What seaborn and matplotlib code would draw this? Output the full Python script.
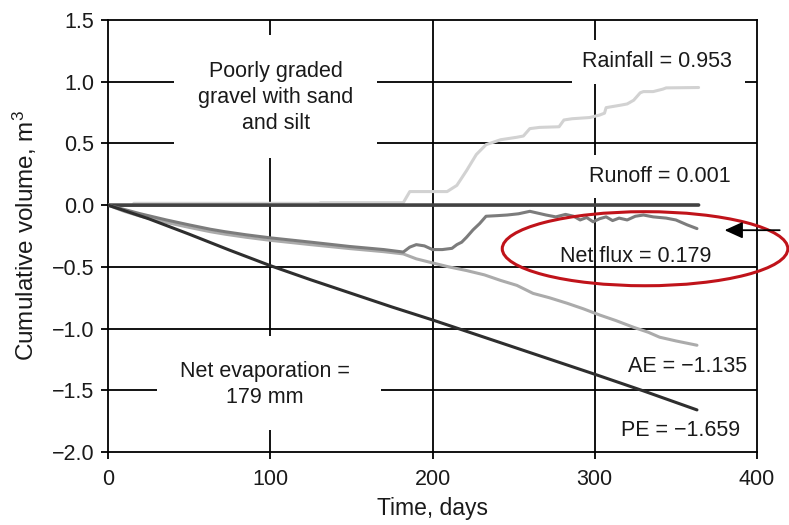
import numpy as np
import pandas as pd
import matplotlib
matplotlib.use("Agg")
import matplotlib.pyplot as plt
import seaborn as sns
from matplotlib.patches import Ellipse, Rectangle

# ---------------- data ----------------
pe_days = [0, 25, 50, 75, 100, 125, 150, 175, 200, 225, 250, 275, 300, 330, 363]
pe_vol = [0, -0.11, -0.235, -0.365, -0.49, -0.605, -0.715, -0.825, -0.93, -1.04,
          -1.15, -1.26, -1.37, -1.505, -1.659]

ae_days = [0, 10, 20, 36, 50, 63, 72, 85, 100, 125, 149, 170, 182, 190, 200, 210, 221,
           232, 242, 252, 262, 272, 283, 293, 303, 313, 324, 333, 340, 350, 363]
ae_vol = [0, -0.05, -0.09, -0.14, -0.18, -0.215, -0.235, -0.26, -0.285, -0.32, -0.352,
          -0.377, -0.395, -0.435, -0.468, -0.50, -0.53, -0.565, -0.61, -0.65, -0.715,
          -0.75, -0.795, -0.84, -0.89, -0.935, -0.99, -1.03, -1.07, -1.10, -1.135]

net_days = [0, 10, 20, 36, 50, 63, 72, 85, 100, 125, 149, 170, 182, 186, 190, 195, 200,
            206, 212, 215, 218, 221, 225, 229, 233, 240, 246, 253, 260, 265, 270, 276,
            282, 287, 291, 295, 299, 303, 307, 311, 315, 320, 325, 330, 336, 344, 350,
            357, 363]
net_vol = [0, -0.035, -0.07, -0.12, -0.16, -0.195, -0.215, -0.24, -0.265, -0.30, -0.335,
           -0.36, -0.38, -0.34, -0.32, -0.33, -0.36, -0.36, -0.35, -0.32, -0.30, -0.26,
           -0.20, -0.15, -0.09, -0.085, -0.08, -0.07, -0.05, -0.065, -0.08, -0.095,
           -0.075, -0.09, -0.12, -0.10, -0.135, -0.11, -0.095, -0.125, -0.105, -0.12,
           -0.09, -0.08, -0.095, -0.105, -0.12, -0.16, -0.19]

rain_days = [0, 15, 16, 130, 131, 182, 186, 209, 215, 221, 227, 233, 242, 252, 256, 260,
             266, 278, 281, 286, 297, 303, 306, 307, 316, 320, 324, 328, 330, 336, 342,
             344, 364]
rain_vol = [0, 0.0, 0.015, 0.015, 0.02, 0.02, 0.11, 0.11, 0.16, 0.28, 0.41, 0.49, 0.53,
            0.55, 0.56, 0.62, 0.63, 0.635, 0.69, 0.70, 0.71, 0.73, 0.745, 0.79, 0.81,
            0.82, 0.85, 0.91, 0.92, 0.92, 0.94, 0.95, 0.953]

runoff_days = [0, 364]
runoff_vol = [0.0, 0.001]

series_names = ["Rainfall", "Runoff", "AE", "Net flux", "PE"]
x_ticks = [0, 100, 200, 300, 400]
y_ticks = [-2.0, -1.5, -1.0, -0.5, 0.0, 0.5, 1.0, 1.5]

# ---------------- style ----------------
sns.set_style("ticks")
plt.rcParams["font.family"] = ["Liberation Sans", "DejaVu Sans"]
plt.rcParams["mathtext.fontset"] = "custom"
plt.rcParams["mathtext.rm"] = "Liberation Sans"
plt.rcParams["mathtext.default"] = "regular"
FS = 15.5

frames = []
for name, d, v in [("Rainfall", rain_days, rain_vol), ("Runoff", runoff_days, runoff_vol),
                   ("AE", ae_days, ae_vol), ("Net flux", net_days, net_vol),
                   ("PE", pe_days, pe_vol)]:
    frames.append(pd.DataFrame({"day": d, "vol": v, "series": name}))
df = pd.concat(frames, ignore_index=True)

palette = {"Rainfall": "#d2d2d2", "Runoff": "#424242", "AE": "#ababab",
           "Net flux": "#7c7c7c", "PE": "#2e2e2e"}
sizes = {"Rainfall": 2.2, "Runoff": 2.6, "AE": 2.2, "Net flux": 2.2, "PE": 2.2}

fig = plt.figure(figsize=(7.89, 5.25), dpi=100)
ax = fig.add_axes([108 / 789, 73 / 525, 649 / 789, 432 / 525])

sns.lineplot(data=df, x="day", y="vol", hue="series", size="series",
             hue_order=series_names, size_order=series_names,
             palette=palette, sizes=sizes, estimator=None, sort=False,
             legend=False, ax=ax)
for ln in ax.lines:
    ln.set_zorder(3)

# grid lines (black)
for xv in [100, 200, 300]:
    ax.axvline(xv, color="black", lw=1.3, zorder=1)
for yv in [1.0, 0.5, -0.5, -1.0, -1.5]:
    ax.axhline(yv, color="black", lw=1.3, zorder=1)

# white boxes behind labels that interrupt the grid
for (x0, x1, y0, y1) in [(40.7, 166, 0.38, 1.38), (286, 392.6, 0.98, 1.338),
                         (287, 392, 0.06, 0.405), (30, 168, -1.825, -1.062)]:
    ax.add_patch(Rectangle((x0, y0), x1 - x0, y1 - y0, facecolor="white",
                           edgecolor="none", zorder=2))

txt = dict(ha="center", va="center", fontsize=FS, color="#1a1a1a", zorder=4)
ax.text(103.4, 0.87, "Poorly graded\ngravel with sand\nand silt", linespacing=1.3, **txt)
ax.text(338.6, 1.16, "Rainfall = 0.953", **txt)
ax.text(340, 0.23, "Runoff = 0.001", **txt)
ax.text(325, -0.414, "Net flux = 0.179", **txt)
ax.text(357, -1.306, "AE = \u22121.135", **txt)
ax.text(352.8, -1.825, "PE = \u22121.659", **txt)
ax.text(96.8, -1.45, "Net evaporation =\n179 mm", linespacing=1.3, **txt)

# red ellipse and arrow
ax.add_patch(Ellipse((331, -0.353), 176, 0.60, fill=False, edgecolor="#c0131a",
                     lw=2.2, clip_on=False, zorder=5))
ax.annotate("", xy=(380, -0.203), xytext=(414, -0.203),
            arrowprops=dict(arrowstyle="-|>,head_length=0.55,head_width=0.25",
                            color="black", lw=1.3, mutation_scale=20,
                            shrinkA=0, shrinkB=0),
            annotation_clip=False, zorder=5)

ax.set_xlim(0, 400)
ax.set_ylim(-2.0, 1.5)
ax.set_xticks(x_ticks)
ax.set_yticks(y_ticks)
ax.set_yticklabels([f"{v:.1f}".replace("-", "\u2212") for v in y_ticks])
ax.tick_params(direction="out", length=5, width=1.3, labelsize=FS, colors="black",
               labelcolor="#1a1a1a")
ax.tick_params(axis="y", pad=5)
ax.tick_params(axis="x", pad=7)
for sp in ax.spines.values():
    sp.set_visible(True)
    sp.set_linewidth(1.3)
    sp.set_color("black")
ax.set_xlabel("Time, days", fontsize=16.5, color="#1a1a1a", labelpad=5)
ax.set_ylabel("Cumulative volume, m$^3$", fontsize=17.5, color="#1a1a1a", labelpad=9)

fig.savefig("out.png", dpi=100)
